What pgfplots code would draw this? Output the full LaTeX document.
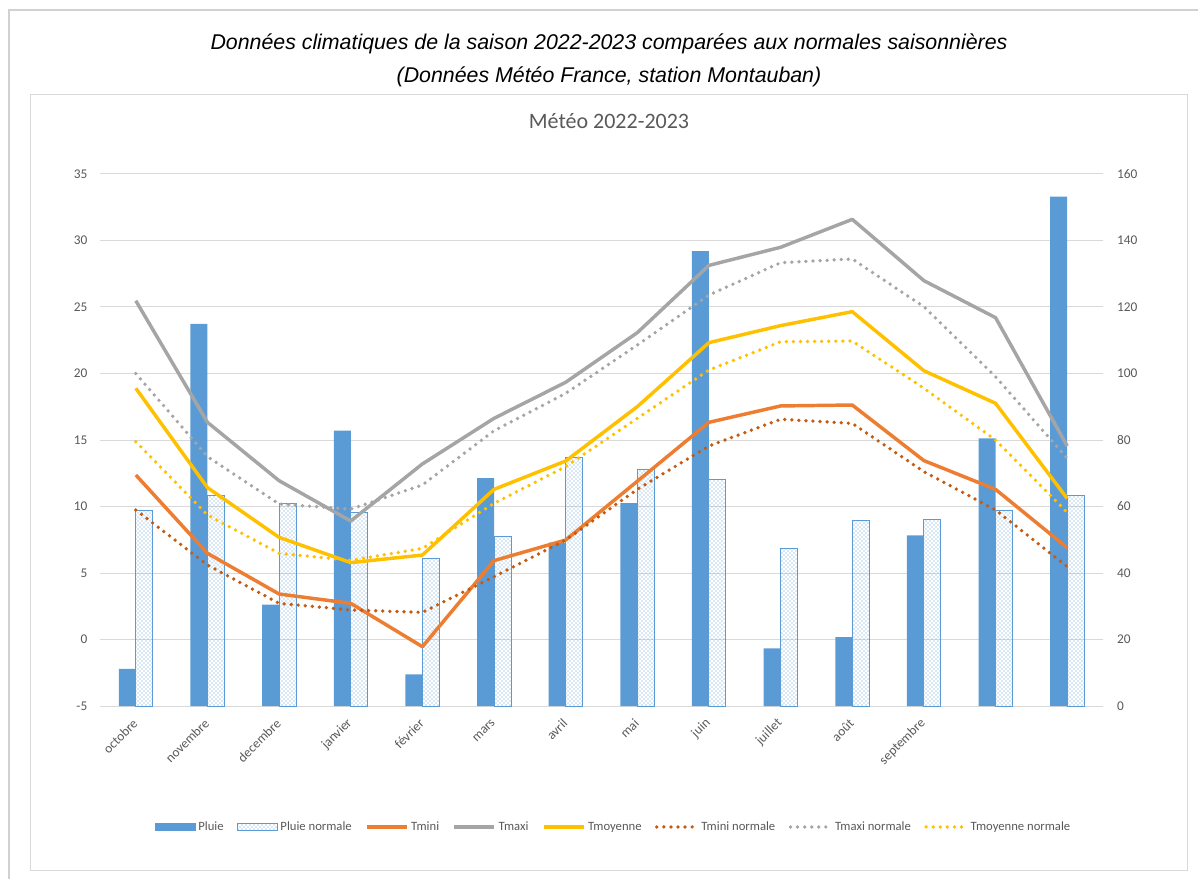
\documentclass[border=0pt]{standalone}
\usepackage{pgfplots}
\usepackage{pgfplotstable}
\pgfplotsset{compat=1.18}
\usetikzlibrary{patterns}
\usepackage{fontspec}
\setmainfont{Carlito}
\newfontfamily\arial{Liberation Sans}

\definecolor{pluie}{HTML}{5B9BD5}
\definecolor{tmini}{HTML}{ED7D31}
\definecolor{tmaxi}{HTML}{A5A5A5}
\definecolor{tmoy}{HTML}{FFC000}
\definecolor{tminin}{HTML}{C55A11}
\definecolor{txt}{HTML}{595959}
\definecolor{grille}{HTML}{D9D9D9}

% mois 0..13 : pluie (mm), pluie normale, temperatures (°C)
\pgfplotstableread{
x pluie pluien tmin tmax tmoy tminn tmaxn tmoyn
0  11.2  58.8 12.37 25.47 18.89  9.74 20.00 14.87
1  114.9 63.4  6.48 16.33 11.42  5.60 13.75  9.36
2  30.5  61.0  3.42 11.94  7.68  2.72 10.19  6.48
3  82.8  58.3  2.72  8.91  5.78  2.22  9.80  5.95
4  9.5   44.5 -0.54 13.20  6.35  2.04 11.62  6.85
5  68.5  50.9  5.93 16.63 11.29  4.72 15.70 10.24
6  49.1  74.8  7.48 19.34 13.42  7.48 18.51 13.00
7  61.0  71.0 11.90 23.07 17.51 11.29 22.14 16.63
8  136.8 68.2 16.33 28.13 22.32 14.55 25.90 20.26
9  17.3  47.4 17.56 29.49 23.60 16.56 28.33 22.39
10 20.7  55.8 17.63 31.59 24.65 16.25 28.61 22.44
11 51.3  56.1 13.45 26.98 20.21 12.62 25.02 18.89
12 80.5  58.7 11.29 24.20 17.76  9.74 19.76 15.00
13 153.2 63.2  6.90 14.55 10.60  5.48 13.62  9.56
}\meteo

\begin{document}
\begin{tikzpicture}
\useasboundingbox (0,0) rectangle (898.5pt,659.25pt);

% cadres et titres (unites en pixels, y vers le bas)
\begin{scope}[x=0.75pt, y=-0.75pt, shift={(0pt,659.25pt)}]
  \draw[color=black!18, line width=1.2pt] (9,879) -- (9,10) -- (1198,10);
  \draw[grille, line width=0.75pt] (30,95) rectangle (1187,870);
  \node[font=\arial\itshape\fontsize{16}{19}\selectfont] at (609,44)
    {Données climatiques de la saison 2022-2023 comparées aux normales saisonnières};
  \node[font=\arial\itshape\fontsize{16}{19}\selectfont] at (609,77)
    {(Données Météo France, station Montauban)};
  \node[font=\fontsize{16.5}{19}\selectfont, text=txt] at (609,121) {Météo 2022-2023};
\end{scope}

\pgfplotsset{
  meteoaxe/.style={
    at={(75pt,129.75pt)}, anchor=south west,
    scale only axis, width=752.25pt, height=399pt,
    xmin=-0.5, xmax=13.5,
    axis line style={draw=none},
    major tick length=0pt,
    tick label style={font=\fontsize{10}{12}\selectfont, text=txt},
    /pgf/number format/assume math mode=true,
    clip=false,
  }
}

% axe pluie (a droite)
\begin{axis}[meteoaxe,
  ymin=0, ymax=160, ytick={0,20,...,160},
  yticklabel pos=right,
  yticklabel style={xshift=7pt},
  ymajorgrids, grid style={draw=grille, line width=0.75pt},
  xtick={0,...,11},
  xticklabels={octobre,novembre,decembre,janvier,février,mars,avril,mai,juin,juillet,août,septembre},
  xticklabel style={yshift=-9pt, xshift=2pt, rotate=45, anchor=east},
]
\addplot[ybar, bar width=12.75pt, bar shift=-6.375pt, fill=pluie, draw=none]
  table[x=x, y=pluie] {\meteo};
\addplot[ybar, bar width=12.75pt, bar shift=6.375pt, draw=pluie, line width=0.75pt,
  pattern=crosshatch dots, pattern color=pluie]
  table[x=x, y=pluien] {\meteo};
\end{axis}

% axe temperatures (a gauche)
\begin{axis}[meteoaxe,
  ymin=-5, ymax=35, ytick={-5,0,...,35},
  yticklabel pos=left,
  yticklabel style={xshift=-6pt},
  xtick=\empty,
  legend columns=8,
  legend cell align=left,
  legend image code/.code={\draw[#1] (0pt,0pt) -- (30pt,0pt);},
  legend style={draw=none, fill=none, at={(0.5125,-0.2274)}, anchor=center,
    font=\fontsize{9.5}{11}\selectfont, text=txt,
    /tikz/every even column/.append style={column sep=8pt}},
]
\addlegendimage{legend image code/.code={\fill[pluie] (0pt,-2.8pt) rectangle (30pt,2.8pt);}}
\addlegendentry{Pluie}
\addlegendimage{legend image code/.code={\draw[pluie, line width=0.6pt, pattern=crosshatch dots, pattern color=pluie] (0pt,-2.8pt) rectangle (30pt,2.8pt);}}
\addlegendentry{Pluie normale}
\addplot[tmini, line width=2.6pt, line join=round] table[x=x, y=tmin] {\meteo};
\addlegendentry{Tmini}
\addplot[tmaxi, line width=2.6pt, line join=round] table[x=x, y=tmax] {\meteo};
\addlegendentry{Tmaxi}
\addplot[tmoy, line width=2.6pt, line join=round] table[x=x, y=tmoy] {\meteo};
\addlegendentry{Tmoyenne}
\addplot[tminin, line width=2.8pt, line cap=round, dash pattern=on 0pt off 5.3pt] table[x=x, y=tminn] {\meteo};
\addlegendentry{Tmini normale}
\addplot[tmaxi, line width=2.8pt, line cap=round, dash pattern=on 0pt off 5.3pt] table[x=x, y=tmaxn] {\meteo};
\addlegendentry{Tmaxi normale}
\addplot[tmoy, line width=2.8pt, line cap=round, dash pattern=on 0pt off 5.3pt] table[x=x, y=tmoyn] {\meteo};
\addlegendentry{Tmoyenne normale}
\end{axis}
\end{tikzpicture}
\end{document}
